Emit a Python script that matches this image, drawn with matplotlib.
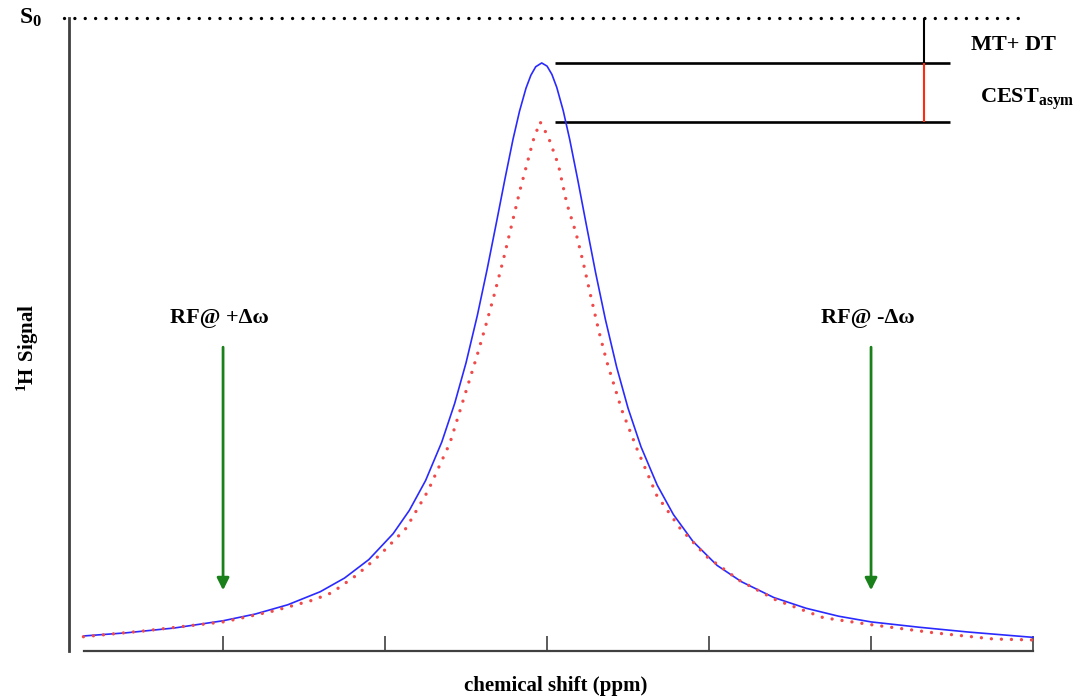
"""Schematic CEST z-spectrum: reference vs. saturated 1H signal."""

import matplotlib
matplotlib.use("Agg")
import matplotlib.pyplot as plt

plt.rcParams['font.family'] = ['Liberation Serif', 'DejaVu Serif']
plt.rcParams['mathtext.fontset'] = 'custom'
plt.rcParams['mathtext.rm'] = 'Liberation Serif'
plt.rcParams['mathtext.bf'] = 'Liberation Serif:bold'

# ---- data (x in tick units, y as fraction of S0) ----
blue_x = [-2.86, -2.6, -2.3, -2.0, -1.8, -1.6, -1.4, -1.25, -1.1, -0.95,
          -0.85, -0.75, -0.65, -0.57, -0.5, -0.43, -0.37, -0.31, -0.26, -0.21,
          -0.17, -0.13, -0.10, -0.07, -0.033, 0.0, 0.03, 0.06, 0.10, 0.14,
          0.19, 0.24, 0.30, 0.36, 0.43, 0.50, 0.58, 0.68, 0.78, 0.90,
          1.05, 1.2, 1.4, 1.6, 1.8, 2.0, 2.3, 2.6, 3.0]
blue_y = [0.0238, 0.0287, 0.0364, 0.0478, 0.0585, 0.0731, 0.0937, 0.1153, 0.1445, 0.1854,
          0.2222, 0.2692, 0.3300, 0.3913, 0.4554, 0.5305, 0.6028, 0.6801, 0.7456, 0.8085,
          0.8527, 0.8891, 0.9095, 0.9230, 0.929, 0.9240, 0.9109, 0.8904, 0.8535, 0.8080,
          0.7438, 0.6766, 0.5974, 0.5240, 0.4482, 0.3836, 0.3226, 0.2621, 0.2156, 0.1734,
          0.1352, 0.1095, 0.0845, 0.0675, 0.0550, 0.0460, 0.0375, 0.0300, 0.0216]

red_x = [-2.862, -2.492, -1.990, -1.690, -1.443, -1.329, -1.175, -1.031, -0.870,
         -0.735, -0.599, -0.434, -0.383, -0.331, -0.270, -0.167, -0.085, -0.043,
         0.008, 0.070, 0.122, 0.179, 0.224, 0.265, 0.321, 0.369, 0.461, 0.554,
         0.677, 0.821, 0.986, 1.191, 1.414, 1.706, 2.014, 2.385, 2.755, 3.012]
red_y = [0.0226, 0.0316, 0.0463, 0.0632, 0.0806, 0.0921, 0.120, 0.152, 0.194,
         0.253, 0.329, 0.465, 0.510, 0.558, 0.618, 0.728, 0.807, 0.836,
         0.812, 0.768, 0.707, 0.660, 0.613, 0.566, 0.504, 0.457, 0.381, 0.320,
         0.246, 0.194, 0.149, 0.111, 0.0806, 0.0526, 0.0411, 0.0289, 0.0190, 0.0174]

s0_level = 1.0
tick_positions = [-2, -1, 0, 1, 2, 3]
arrow_x = [-2.0, 2.0]
arrow_labels = ['RF@ +Δω', 'RF@ -Δω']

# ---- figure ----
fig = plt.figure(figsize=(10.78, 6.98), dpi=100)
ax = fig.add_axes([0.064, 0.0673, 0.8988, 0.9069])
ax.set_xlim(-2.951, 3.03)
ax.set_ylim(0, 1.0)

# curves
ax.plot(blue_x, blue_y, color='#2a2aff', linewidth=1.2, zorder=3)
ax.plot(red_x, red_y, color='#f04a4a', linewidth=2.4,
        linestyle=(0, (0.01, 3.0)), dash_capstyle='round', zorder=4)

# S0 reference line
ax.plot([-2.98, 2.93], [s0_level, s0_level], color='black', linewidth=2.4,
        linestyle=(0, (0.01, 3.1)), dash_capstyle='round', clip_on=False)

# level markers at peak heights
blue_peak = max(blue_y)
red_peak = max(red_y)
ax.hlines([blue_peak, red_peak], 0.049, 2.488, color='black', linewidth=1.9)
ax.vlines(2.327, blue_peak, s0_level, color='black', linewidth=1.5)
ax.vlines(2.327, red_peak, blue_peak, color='#ff2a10', linewidth=1.5)

ax.text(2.877, 0.957, 'MT+ DT', fontsize=16, fontweight='bold',
        ha='center', va='center')
ax.text(2.673, 0.872, r'$\mathbf{CEST_{asym}}$', fontsize=16,
        ha='left', va='center')

# RF saturation arrows
for xa, lab in zip(arrow_x, arrow_labels):
    ax.annotate('', xy=(xa, 0.096), xytext=(xa, 0.480),
                arrowprops=dict(arrowstyle='-|>', color='#1a801a', lw=2,
                                mutation_scale=18, shrinkA=0, shrinkB=0))
    ax.text(xa - 0.02, 0.526, lab, fontsize=16, fontweight='bold',
            ha='center', va='center')

# axes styling
for side in ['top', 'right']:
    ax.spines[side].set_visible(False)
ax.spines['left'].set_color('#404040')
ax.spines['left'].set_linewidth(2.0)
ax.spines['bottom'].set_color('#404040')
ax.spines['bottom'].set_linewidth(1.6)
ax.spines['bottom'].set_bounds(-2.86, 3.0)
ax.set_xticks(tick_positions)
ax.set_yticks([])
ax.tick_params(axis='x', direction='in', length=11, width=1.2,
               color='#404040', labelbottom=False)

fig.text(30 / 1078, 1 - 18 / 698, r'$\mathbf{S_0}$', fontsize=17,
         ha='center', va='center')
fig.text(556 / 1078, 1 - 686 / 698, 'chemical shift (ppm)', fontsize=15,
         fontweight='bold', ha='center', va='center')
fig.text(28 / 1078, 1 - 348 / 698, r'$\mathbf{^1H\ Signal}$', fontsize=15,
         rotation=90, ha='center', va='center')

fig.savefig('out.png', dpi=100)
